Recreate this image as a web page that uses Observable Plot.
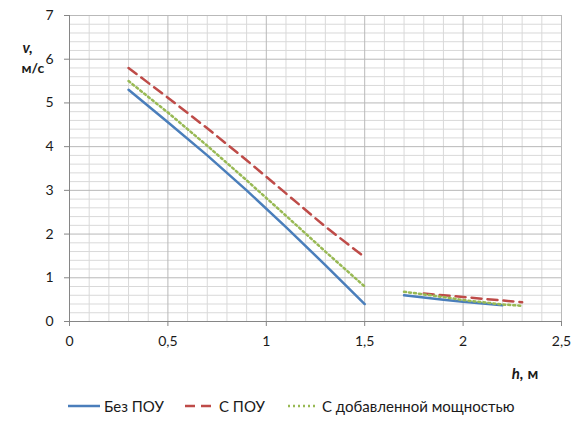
<!DOCTYPE html>
<html><head><meta charset="utf-8">
<script src="https://cdn.jsdelivr.net/npm/d3@7"></script>
<script src="https://cdn.jsdelivr.net/npm/@observablehq/plot@0.6"></script>
<style>
body{margin:0;background:#fff;}
#wrap{position:relative;width:583px;height:428px;font-family:Lato,sans-serif;color:#1a1a1a;}
#legend{position:absolute;left:0;top:390px;width:583px;height:38px;}
.item{position:absolute;top:6px;height:20px;display:flex;align-items:center;font-size:15px;white-space:nowrap;}
.item svg{margin-right:4px;}
</style></head><body>
<div id="wrap"><div id="chart"></div><div id="legend"></div></div>
<script>
// --- data ---
const seriesNames = ["Без ПОУ", "С ПОУ", "С добавленной мощностью"];
const seriesColors = ["#4A7EBB", "#BE4B48", "#98B954"];

const hFirst = [0.3, 0.5, 0.7, 0.9, 1.1, 1.3, 1.5];
const vBlueFirst = [5.3, 4.56, 3.8, 3.0, 2.16, 1.29, 0.4];
const vRedFirst = [5.8, 5.12, 4.42, 3.69, 2.93, 2.17, 1.47];
const vGreenFirst = [5.5, 4.78, 4.02, 3.23, 2.42, 1.6, 0.8];

const hBlueSecond = [1.7, 1.8, 1.9, 2.0, 2.1, 2.2];
const vBlueSecond = [0.6, 0.55, 0.5, 0.45, 0.41, 0.37];
const hRedSecond = [1.8, 1.9, 2.0, 2.1, 2.2, 2.3];
const vRedSecond = [0.64, 0.6, 0.56, 0.52, 0.48, 0.44];
const hGreenSecond = [1.7, 1.8, 1.9, 2.0, 2.1, 2.2, 2.3];
const vGreenSecond = [0.68, 0.62, 0.56, 0.49, 0.44, 0.39, 0.36];

const xMajor = [0, 0.5, 1, 1.5, 2, 2.5];
const yMajor = [0, 1, 2, 3, 4, 5, 6, 7];
const xMinor = [0.1,0.2,0.3,0.4,0.6,0.7,0.8,0.9,1.1,1.2,1.3,1.4,1.6,1.7,1.8,1.9,2.1,2.2,2.3,2.4];
const yMinor = [0.2,0.4,0.6,0.8,1.2,1.4,1.6,1.8,2.2,2.4,2.6,2.8,3.2,3.4,3.6,3.8,4.2,4.4,4.6,4.8,5.2,5.4,5.6,5.8,6.2,6.4,6.6,6.8];

// --- build rows ---
function rows(name, seg, hs, vs){ return hs.map((h,i)=>({series:name, seg, h, v:vs[i]})); }
const blueRows = [...rows(seriesNames[0],1,hFirst,vBlueFirst), ...rows(seriesNames[0],2,hBlueSecond,vBlueSecond)];
const redRows = [...rows(seriesNames[1],1,hFirst,vRedFirst), ...rows(seriesNames[1],2,hRedSecond,vRedSecond)];
const greenRows = [...rows(seriesNames[2],1,hFirst,vGreenFirst), ...rows(seriesNames[2],2,hGreenSecond,vGreenSecond)];

const fmt = d => String(d).replace(".", ",");
const font = "Lato, sans-serif";

const chart = Plot.plot({
  width: 583, height: 390,
  marginLeft: 69, marginRight: 22, marginTop: 15, marginBottom: 69,
  x: {domain: [0, 2.5]},
  y: {domain: [0, 7]},
  style: {fontFamily: font, fontSize: "14px", color: "#1a1a1a", background: "white", overflow: "visible"},
  marks: [
    Plot.ruleX(xMinor, {x: d => d, stroke: "#d9d9d9", strokeWidth: 1}),
    Plot.ruleY(yMinor, {y: d => d, stroke: "#d9d9d9", strokeWidth: 1}),
    Plot.ruleX(xMajor, {x: d => d, stroke: "#b9b9b9", strokeWidth: 1}),
    Plot.ruleY(yMajor, {y: d => d, stroke: "#b9b9b9", strokeWidth: 1}),
    Plot.ruleX([0], {stroke: "#868686"}),
    Plot.ruleY([0], {stroke: "#868686"}),
    Plot.axisX(xMajor, {tickSize: 5, tickPadding: 10, tickFormat: fmt, stroke: "#868686", label: null}),
    Plot.axisY(yMajor, {tickSize: 5, tickPadding: 11, tickFormat: fmt, stroke: "#868686", label: null}),
    Plot.line(blueRows, {x: "h", y: "v", z: "seg", stroke: seriesColors[0], strokeWidth: 2.5}),
    Plot.line(redRows, {x: "h", y: "v", z: "seg", stroke: seriesColors[1], strokeWidth: 2.5, strokeDasharray: "10,6"}),
    Plot.line(greenRows, {x: "h", y: "v", z: "seg", stroke: seriesColors[2], strokeWidth: 2.5, strokeDasharray: "2,3"}),
    Plot.text(["v,"], {text: d => d, frameAnchor: "top-left", dx: -47, dy: 27, fontWeight: "bold", fontStyle: "italic", fontSize: 15, fill: "#1a1a1a"}),
    Plot.text(["м/с"], {text: d => d, frameAnchor: "top-left", dx: -48, dy: 48, fontWeight: "bold", fontSize: 14, fill: "#1a1a1a"}),
    Plot.text(["h,"], {text: d => d, frameAnchor: "bottom-left", dx: 454, dy: 57, textAnchor: "end", fontWeight: "bold", fontStyle: "italic", fontSize: 15, fill: "#1a1a1a"}),
    Plot.text(["м"], {text: d => d, frameAnchor: "bottom-left", dx: 458, dy: 57, textAnchor: "start", fontWeight: "bold", fontSize: 15, fill: "#1a1a1a"})
  ]
});
document.getElementById("chart").append(chart);

// --- legend ---
const legend = document.getElementById("legend");
const lefts = [68, 185, 288];
const swW = [32, 30, 30];
const dashes = ["", "10,6", "2,3"];
seriesNames.forEach((name, i) => {
  const it = document.createElement("div");
  it.className = "item";
  it.style.left = lefts[i] + "px";
  it.innerHTML = `<svg width="${swW[i]}" height="6"><line x1="0" x2="${swW[i]}" y1="3" y2="3" stroke="${seriesColors[i]}" stroke-width="2.5" ${dashes[i] ? `stroke-dasharray="${dashes[i]}"` : ""}/></svg><span>${name}</span>`;
  legend.append(it);
});
</script>
</body></html>
